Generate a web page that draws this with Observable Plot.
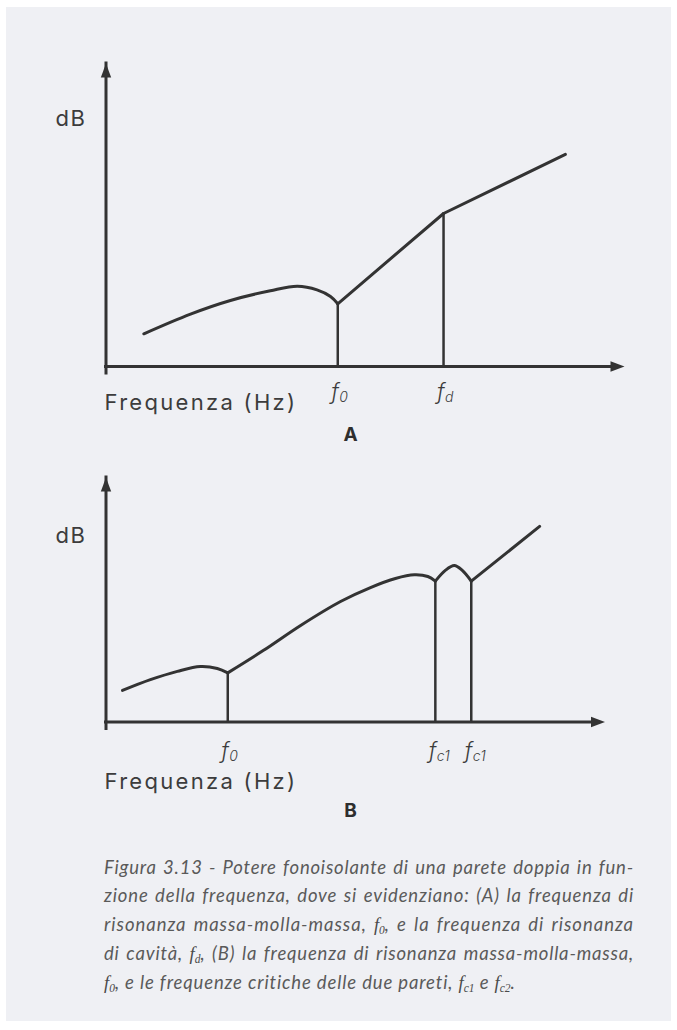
<!DOCTYPE html>
<html>
<head>
<meta charset="utf-8">
<script src="https://cdn.jsdelivr.net/npm/d3@7"></script>
<script src="https://cdn.jsdelivr.net/npm/@observablehq/plot@0.6"></script>
<style>
  html, body { margin: 0; padding: 0; background: #ffffff; }
  body { width: 677px; height: 1030px; position: relative; overflow: hidden; }
  #panel { position: absolute; left: 6px; top: 7px; width: 665px; height: 1014px; background: #eff0f4; }
  .chart { position: absolute; left: 0; }
  #chartA { top: 0; }
  #chartB { top: 455px; }
  #caption {
    position: absolute; left: 104px; top: 853px; width: 530px;
    font-family: Lato, "Open Sans", sans-serif; font-style: italic; font-weight: 400;
    font-size: 18.5px; line-height: 28.3px; color: #5a5a5a; letter-spacing: 0.6px;
  }
  #caption .j { text-align: justify; text-align-last: justify; }
  #caption .fv { font-family: "Liberation Serif", serif; font-style: italic; font-weight: 400; letter-spacing: 0; color: #4a4a4a; }
  #caption sub { font-size: 0.62em; line-height: 0; vertical-align: -0.25em; }
</style>
</head>
<body>
<div id="panel"></div>
<div id="chartA" class="chart"></div>
<div id="chartB" class="chart"></div>
<div id="caption">
  <div class="j">Figura 3.13 - Potere fonoisolante di una parete doppia in fun-</div>
  <div class="j">zione della frequenza, dove si evidenziano: (A) la frequenza di</div>
  <div class="j">risonanza massa-molla-massa, <span class="fv">f<sub>0</sub></span>, e la frequenza di risonanza</div>
  <div class="j">di cavità, <span class="fv">f<sub>d</sub></span>, (B) la frequenza di risonanza massa-molla-massa,</div>
  <div class="last"><span class="fv">f<sub>0</sub></span>, e le frequenze critiche delle due pareti, <span class="fv">f<sub>c1</sub></span> e <span class="fv">f<sub>c2</sub></span>.</div>
</div>
<script>
// Panel A — sound reduction of a double wall: low-frequency rise, dip at the
// mass-spring-mass resonance f0, then steep rise up to the cavity resonance fd.
const freqA  = [7.3, 16.3, 24.0, 31.7, 36.9, 40.7, 43.3, 44.7,  44.7, 65.1,  65.1, 88.6];
const levelA = [10.8, 17.3, 21.8, 25.0, 26.5, 25.3, 23.1, 20.7, 20.7, 50.5,  50.5, 70.0];
const partA  = ["a", "a", "a", "a", "a", "a", "a", "a",       "b", "b",     "c", "c"];
const markNamesA  = ["0", "d"];
const markFreqA   = [44.7, 65.1];
const markLevelA  = [20.7, 50.5];

// Panel B — same wall showing f0 and the critical frequencies of the two leaves.
const freqB  = [3.3, 8.9, 14.3, 18.9, 22.3, 24.4,
                24.4, 31.5, 39.0, 47.0, 53.0, 58.0, 61.8, 64.5, 66.0,
                66.0, 68.0, 69.8, 71.4, 73.2,
                73.2, 86.9];
const levelB = [12.9, 17.3, 20.7, 22.7, 21.9, 20.1,
                20.1, 29.2, 39.5, 49.3, 55.0, 58.7, 60.2, 59.5, 57.6,
                57.6, 62.0, 64.0, 62.0, 57.6,
                57.6, 80.0];
const partB  = ["a", "a", "a", "a", "a", "a",
                "b", "b", "b", "b", "b", "b", "b", "b", "b",
                "c", "c", "c", "c", "c",
                "d", "d"];
const markNamesB  = ["0", "c1", "c1"];
const markFreqB   = [24.4, 66.0, 73.2];
const markLevelB  = [20.1, 57.6, 57.6];

const ink = "#333333";
const textInk = "#3c3c3c";
const sans = "Inter, 'Open Sans', sans-serif";

// Filled arrowhead whose tip sits on the anchor point, pointing up.
const arrowHead = {
  draw(context, size) {
    const r = Math.sqrt(size / Math.PI);
    context.moveTo(0, 0);
    context.lineTo(0.37 * r, r);
    context.lineTo(-0.37 * r, r);
    context.closePath();
  }
};

function diagram({freq, level, part, names, markFreq, markLevel, height, xRange, yRange,
                  dbDy, labelDy, subDy, axisTitleDy, panelName, panelDy}) {
  const rows = freq.map((f, i) => ({f, level: level[i], part: part[i]}));
  const marks = names.map((name, i) => ({name, f: markFreq[i], level: markLevel[i]}));
  const tips = [{f: 0, level: 100, rot: 0}, {f: 100, level: 0, rot: 90}];
  return Plot.plot({
    width: 677,
    height,
    margin: 0,
    x: {domain: [0, 100], range: xRange, axis: null},
    y: {domain: [0, 100], range: yRange, axis: null},
    style: {background: "transparent", overflow: "visible"},
    marks: [
      Plot.ruleY([0], {x1: 0, x2: 100, stroke: ink, strokeWidth: 3, insetRight: 7, strokeLinecap: "square"}),
      Plot.ruleX([0], {y1: 0, y2: 100, stroke: ink, strokeWidth: 3, insetTop: 7, strokeLinecap: "square"}),
      Plot.dot(tips, {x: "f", y: "level", rotate: "rot", symbol: arrowHead, r: 14, fill: ink}),
      Plot.ruleX(marks, {x: "f", y1: 0, y2: "level", stroke: ink, strokeWidth: 2.5}),
      Plot.line(rows, {x: "f", y: "level", z: "part", curve: "catmull-rom",
                       stroke: ink, strokeWidth: 3, strokeLinejoin: "round"}),
      Plot.text(["dB"], {x: 0, y: 100, textAnchor: "start", lineAnchor: "bottom", dx: -50.5, dy: dbDy,
                         fontFamily: sans, fontSize: 22, fill: textInk}),
      Plot.text(["Frequenza (Hz)"], {x: 0, y: 0, textAnchor: "start", lineAnchor: "bottom", dx: -1.5, dy: axisTitleDy,
                         fontFamily: sans, fontSize: 22, fill: textInk}),
      Plot.text(marks, {x: "f", y: 0, text: () => "f", textAnchor: "end", lineAnchor: "bottom", dx: 1, dy: labelDy,
                        fontFamily: sans, fontStyle: "italic", fontWeight: 300, fontSize: 22, fill: textInk}),
      Plot.text(marks, {x: "f", y: 0, text: "name", textAnchor: "start", lineAnchor: "bottom", dx: 1.5, dy: subDy,
                        fontFamily: sans, fontStyle: "italic", fontWeight: 300, fontSize: 14, fill: textInk}),
      Plot.text([panelName], {frameAnchor: "bottom", lineAnchor: "bottom", dx: 11.5, dy: panelDy,
                              fontFamily: sans, fontWeight: 700, fontSize: 19, fill: "#2e2e2e"})
    ]
  });
}

const chartA = diagram({
  freq: freqA, level: levelA, part: partA,
  names: markNamesA, markFreq: markFreqA, markLevel: markLevelA,
  height: 455, xRange: [105.5, 624], yRange: [366, 63],
  dbDy: 62.5, labelDy: 32, subDy: 35, axisTitleDy: 43, panelName: "A", panelDy: -15
});
const chartB = diagram({
  freq: freqB, level: levelB, part: partB,
  names: markNamesB, markFreq: markFreqB, markLevel: markLevelB,
  height: 385, xRange: [105.5, 604.5], yRange: [266.5, 22],
  dbDy: 65, labelDy: 35.5, subDy: 38.5, axisTitleDy: 66.5, panelName: "B", panelDy: -24
});
document.getElementById("chartA").append(chartA);
document.getElementById("chartB").append(chartB);

// Axis titles and the dB label are tracked out wider than the default spacing.
for (const svg of [chartA, chartB]) {
  for (const t of svg.querySelectorAll("text")) {
    if (t.textContent === "Frequenza (Hz)") t.style.letterSpacing = "2.3px";
    if (t.textContent === "dB") t.style.letterSpacing = "1.5px";
  }
}

// Caption: track each justified line so its natural width nearly fills the column,
// leaving only a little extra word spacing as in a typeset paragraph.
const colWidth = 530;
const spacings = [];
for (const line of document.querySelectorAll("#caption .j")) {
  const probe = document.createElement("span");
  probe.style.whiteSpace = "nowrap";
  probe.innerHTML = line.innerHTML.trim();
  line.innerHTML = "";
  line.append(probe);
  line.style.textAlign = "left";
  line.style.textAlignLast = "left";
  const base = parseFloat(getComputedStyle(line).letterSpacing) || 0;
  const w = probe.getBoundingClientRect().width;
  const n = probe.textContent.length;
  const ls = Math.max(0, base + (colWidth - 12 - w) / n);
  line.style.letterSpacing = ls + "px";
  line.style.textAlign = "";
  line.style.textAlignLast = "";
  probe.style.whiteSpace = "";
  spacings.push(ls);
}
const last = document.querySelector("#caption .last");
last.style.letterSpacing = (spacings.reduce((a, b) => a + b, 0) / spacings.length) + "px";
</script>
</body>
</html>
